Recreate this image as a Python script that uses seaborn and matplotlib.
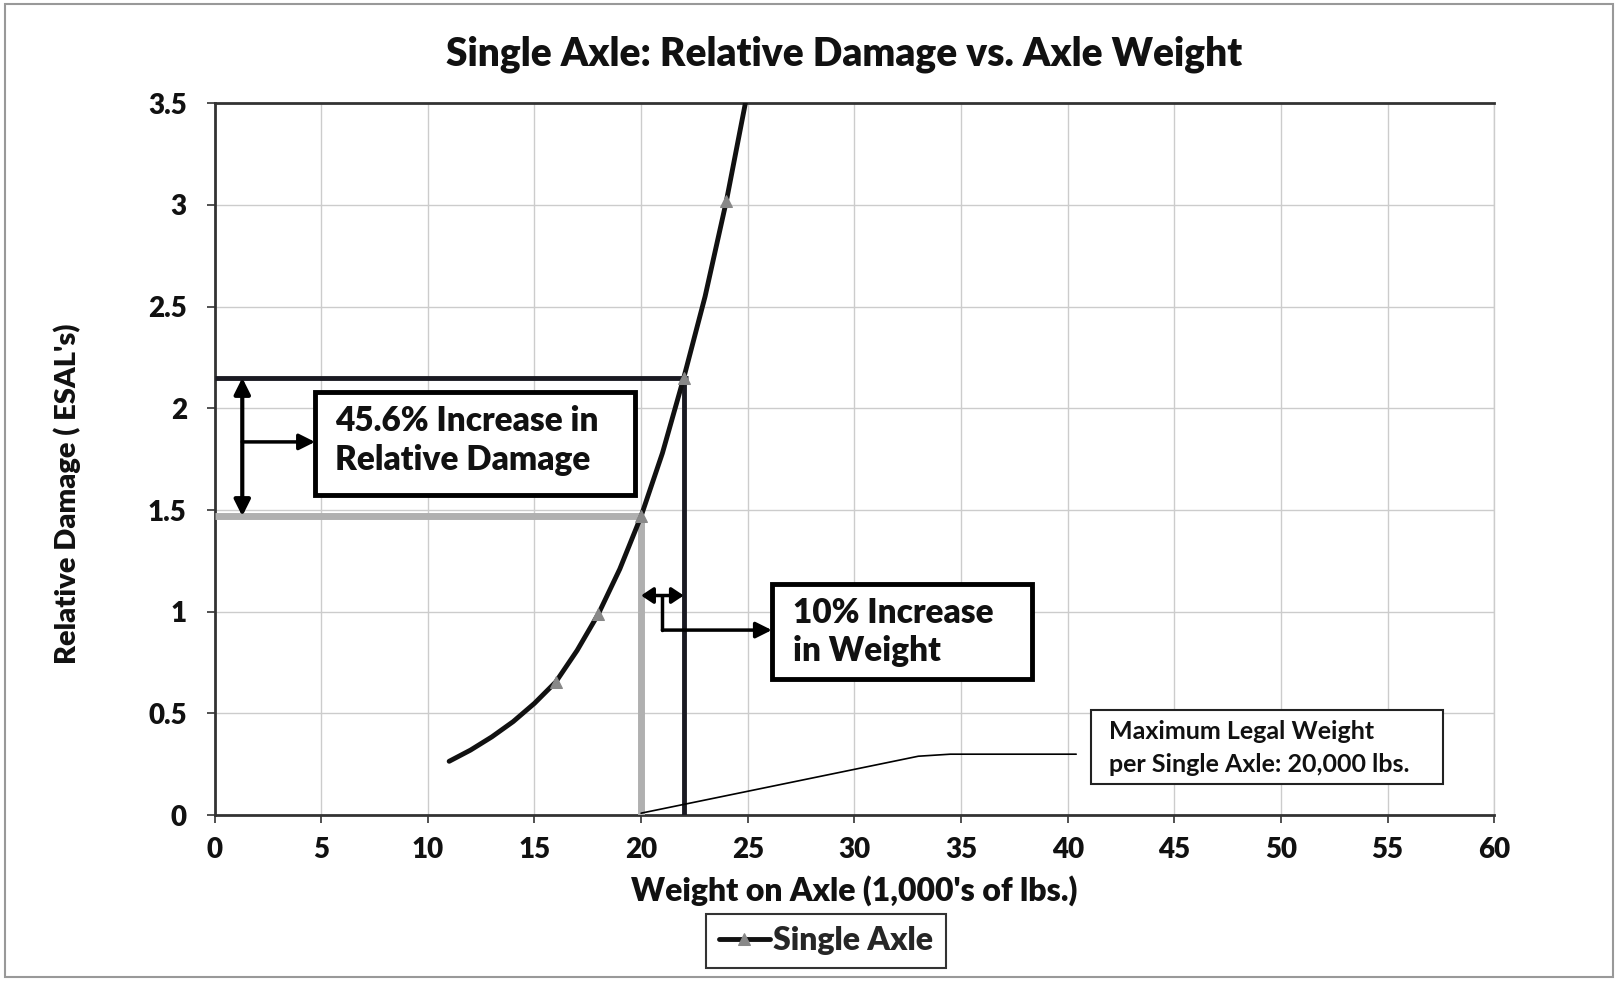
import matplotlib
matplotlib.use("Agg")
import matplotlib.pyplot as plt
from matplotlib.patches import Rectangle
import seaborn as sns
import pandas as pd

# ---- data ----
weight = [11, 12, 13, 14, 15, 16, 17, 18, 19, 20, 21, 22, 23, 24, 25]
damage = [0.265, 0.32, 0.385, 0.46, 0.55, 0.655, 0.81, 0.99, 1.21, 1.47, 1.78, 2.15, 2.55, 3.02, 3.56]
marker_weights = [16, 18, 20, 22, 24]
base_weight = 20
new_weight = 22
base_damage = 1.47
new_damage = 2.15
x_ticks = [0, 5, 10, 15, 20, 25, 30, 35, 40, 45, 50, 55, 60]
y_ticks = [0, 0.5, 1, 1.5, 2, 2.5, 3, 3.5]
y_tick_labels = ["0", "0.5", "1", "1.5", "2", "2.5", "3", "3.5"]
series_name = "Single Axle"

df = pd.DataFrame({"Weight": weight, "Damage": damage})

sns.set_theme(style="whitegrid")
plt.rcParams["font.family"] = ["Lato", "DejaVu Sans"]

fig = plt.figure(figsize=(16.18, 9.81), dpi=100)
ax = fig.add_axes([0.1326, 0.1690, 0.7909, 0.7258])

mark_idx = [weight.index(w) for w in marker_weights]
sns.lineplot(data=df, x="Weight", y="Damage", ax=ax, color="#111111", lw=3.5,
             marker="^", markevery=mark_idx, markersize=8,
             markerfacecolor="#888888", markeredgecolor="#888888",
             label=series_name, zorder=5, clip_on=True)

# reference lines
ax.plot([0, base_weight], [base_damage, base_damage], color="#b0b0b0", lw=5, zorder=3, solid_capstyle="butt")
ax.plot([base_weight, base_weight], [0, base_damage], color="#b0b0b0", lw=5, zorder=3, solid_capstyle="butt")
ax.plot([0, new_weight + 0.2], [new_damage, new_damage], color="#1a1a22", lw=3.5, zorder=4, solid_capstyle="butt")
ax.plot([new_weight, new_weight], [0, new_damage], color="#1a1a22", lw=3.5, zorder=4, solid_capstyle="butt")

W = "heavy"
# damage increase arrows
arr_kw = dict(arrowstyle="<|-|>,head_length=0.8,head_width=0.4", color="black", lw=3, shrinkA=0, shrinkB=0)
ax.annotate("", xy=(1.3, new_damage), xytext=(1.3, base_damage), arrowprops=arr_kw, zorder=6)
ax.annotate("", xy=(4.71, 1.835), xytext=(1.3, 1.835),
            arrowprops=dict(arrowstyle="-|>,head_length=0.8,head_width=0.4", color="black", lw=2.5,
                            shrinkA=0, shrinkB=0), zorder=6)
ax.add_patch(Rectangle((4.71, 1.573), 15.0, 0.508, fill=True, facecolor="white",
                       edgecolor="black", lw=3.5, zorder=6))
ax.text(5.66, 1.938, "45.6% Increase in", fontsize=24, fontweight=W, va="center", ha="left",
        color="#111111", zorder=7)
ax.text(5.66, 1.745, "Relative Damage", fontsize=24, fontweight=W, va="center", ha="left",
        color="#111111", zorder=7)

# weight increase arrows
ax.annotate("", xy=(new_weight, 1.08), xytext=(base_weight, 1.08),
            arrowprops=dict(arrowstyle="<|-|>,head_length=0.6,head_width=0.4", color="black", lw=2.5,
                            shrinkA=0, shrinkB=0), zorder=6)
ax.plot([21, 21], [1.08, 0.91], color="black", lw=2.5, zorder=6)
ax.annotate("", xy=(26.13, 0.91), xytext=(21, 0.91),
            arrowprops=dict(arrowstyle="-|>,head_length=0.8,head_width=0.4", color="black", lw=2.5,
                            shrinkA=0, shrinkB=0), zorder=6)
ax.add_patch(Rectangle((26.13, 0.672), 12.2, 0.464, fill=True, facecolor="white",
                       edgecolor="black", lw=3.5, zorder=6))
ax.text(27.1, 0.994, "10% Increase", fontsize=24, fontweight=W, va="center", ha="left",
        color="#111111", zorder=7)
ax.text(27.1, 0.806, "in Weight", fontsize=24, fontweight=W, va="center", ha="left",
        color="#111111", zorder=7)

# legal weight callout
ax.plot([20, 33.0, 34.5, 40.4], [0.01, 0.29, 0.30, 0.30], color="black", lw=1.2, zorder=6)
ax.add_patch(Rectangle((41.08, 0.152), 16.5, 0.365, fill=True, facecolor="white",
                       edgecolor="#222222", lw=1.5, zorder=6))
ax.text(41.95, 0.411, "Maximum Legal Weight", fontsize=18, fontweight="bold", va="center", ha="left",
        color="#111111", zorder=7)
ax.text(41.95, 0.249, "per Single Axle: 20,000 lbs.", fontsize=18, fontweight="bold", va="center", ha="left",
        color="#111111", zorder=7)

# axes styling
ax.set_xlim(0, 60)
ax.set_ylim(0, 3.5)
ax.set_xticks(x_ticks)
ax.set_xticklabels([str(t) for t in x_ticks], fontsize=20, fontweight=W)
ax.set_yticks(y_ticks)
ax.set_yticklabels(y_tick_labels, fontsize=20, fontweight=W)
ax.grid(True, color="#cccccc", lw=1.0)
ax.set_facecolor("white")
for side in ["left", "bottom", "top"]:
    ax.spines[side].set_color("#333333")
    ax.spines[side].set_linewidth(2)
ax.spines["right"].set_color("#cccccc")
ax.spines["right"].set_linewidth(1)
ax.tick_params(axis="both", which="major", length=6, width=1.2, color="#333333", pad=10,
               bottom=True, left=True, labelcolor="#111111")
ax.tick_params(axis="y", pad=14)
ax.set_xlabel("Weight on Axle (1,000's of lbs.)", fontsize=23, fontweight=W, color="#111111", labelpad=8)
ax.set_ylabel("Relative Damage ( ESAL's)", fontsize=21, fontweight=W, color="#111111")
ax.yaxis.set_label_coords(-0.104, 0.451)

fig.text(0.522, 0.945, "Single Axle: Relative Damage vs. Axle Weight", fontsize=28, fontweight=W,
         ha="center", va="center", color="#111111")

ax.get_legend().remove()
leg = fig.legend(loc="center", bbox_to_anchor=(0.5105, 0.0408), fontsize=23, frameon=True,
                 fancybox=False, handlelength=1.6, handletextpad=0.1, borderpad=0.4)
leg.get_frame().set_edgecolor("black")
leg.get_frame().set_linewidth(1.5)
for t in leg.get_texts():
    t.set_fontweight(W)

fig.patches.append(Rectangle((0.003, 0.004), 0.994, 0.992, transform=fig.transFigure,
                             fill=False, edgecolor="#999999", lw=1.5))

fig.savefig("out.png", dpi=100, facecolor="white")
